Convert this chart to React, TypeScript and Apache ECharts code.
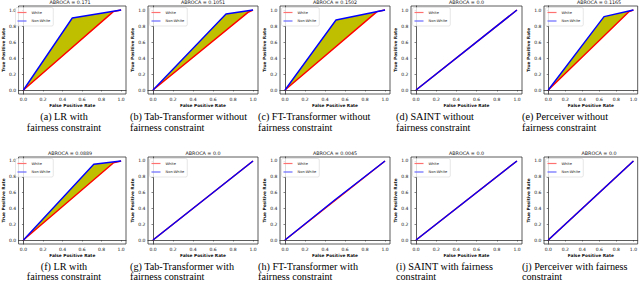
import React, { useEffect, useRef } from 'react';
import * as echarts from 'echarts';

// ---- data ----
const abrocaTitles = [
  'ABROCA = 0.171', 'ABROCA = 0.1051', 'ABROCA = 0.1502', 'ABROCA = 0.0', 'ABROCA = 0.1165',
  'ABROCA = 0.0889', 'ABROCA = 0.0', 'ABROCA = 0.0045', 'ABROCA = 0.0', 'ABROCA = 0.0',
];

// ROC curves (FPR, TPR) for the "White" group, one per panel
const whiteCurves: number[][][] = [
  [[0, 0], [0.92, 0.98], [1, 1]],
  [[0, 0], [0.95, 0.97], [1, 1]],
  [[0, 0], [0.92, 0.98], [1, 1]],
  [[0, 0], [1, 1]],
  [[0, 0], [0.95, 0.98], [1, 1]],
  [[0, 0], [0.92, 0.975], [1, 1]],
  [[0, 0], [1, 1]],
  [[0, 0], [1, 1]],
  [[0, 0], [1, 1]],
  [[0, 0], [1, 1]],
];

// ROC curves (FPR, TPR) for the "Non-White" group, one per panel
const nonWhiteCurves: number[][][] = [
  [[0, 0], [0.5, 0.9], [1, 1]],
  [[0, 0], [0.73, 0.95], [1, 1]],
  [[0, 0], [0.51, 0.875], [1, 1]],
  [[0, 0], [1, 1]],
  [[0, 0], [0.655, 0.917], [1, 1]],
  [[0, 0], [0.72, 0.958], [1, 1]],
  [[0, 0], [1, 1]],
  [[0, 0], [0.5, 0.509], [1, 1]],
  [[0, 0], [1, 1]],
  [[0, 0], [1, 1]],
];

const tickValues = [0, 0.2, 0.4, 0.6, 0.8, 1.0];

const captionLine1 = [
  '(a) LR with', '(b) Tab-Transformer without', '(c) FT-Transformer without', '(d) SAINT without', '(e) Perceiver without',
  '(f) LR with', '(g) Tab-Transformer with', '(h) FT-Transformer with', '(i) SAINT with fairness', '(j) Perceiver with fairness',
];
const captionLine2 = [
  'fairness constraint', 'fairness constraint', 'fairness constraint', 'fairness constraint', 'fairness constraint',
  'fairness constraint', 'fairness constraint', 'fairness constraint', 'constraint', 'constraint',
];

// ---- layout ----
const gridLefts = [14, 148, 280, 411, 544];
const gridWidths = [112, 110, 110, 111, 110];
const rowTops = [6, 157];
const rowHeights = [88, 87];
const captionX = [64, 130, 258, 396, 522];
const captionCentered = [true, false, false, false, false];
const captionY = [[116.8, 127], [266.6, 276.8]];
const CAPTION_SIZE = 10.2;
const FONT = 'DejaVu Sans';

export default function App() {
  const ref = useRef<HTMLDivElement>(null);
  useEffect(() => {
    if (!ref.current) return;
    const chart = echarts.init(ref.current, undefined, { renderer: 'svg' });
    const grids: any[] = [];
    const xAxes: any[] = [];
    const yAxes: any[] = [];
    const series: any[] = [];
    const legends: any[] = [];
    const graphics: any[] = [];

    for (let i = 0; i < 10; i++) {
      const row = Math.floor(i / 5);
      const col = i % 5;
      const left = gridLefts[col];
      const width = gridWidths[col];
      const top = rowTops[row];
      const height = rowHeights[row];
      grids.push({ left, top, width, height, show: true, borderColor: '#333', borderWidth: 0.8, backgroundColor: 'transparent' });
      const axisCommon = {
        gridIndex: i,
        type: 'value',
        min: -0.05,
        max: 1.05,
        splitLine: { show: false },
        axisLine: { show: true, lineStyle: { color: '#333', width: 0.8 } },
        axisTick: { show: true, length: 1.5, customValues: tickValues, lineStyle: { color: '#333', width: 0.6 } },
        axisLabel: {
          customValues: tickValues,
          fontSize: 4.5,
          fontFamily: FONT,
          color: '#111',
          margin: 2.5,
          formatter: (v: number) => v.toFixed(1),
        },
        nameLocation: 'middle',
        nameTextStyle: { fontSize: 4.3, fontWeight: 'bold', fontFamily: FONT, color: '#111' },
      };
      xAxes.push({ ...axisCommon, name: 'False Positive Rate', nameGap: 9.5 });
      yAxes.push({ ...axisCommon, name: 'True Positive Rate', nameGap: 11 });

      const white = whiteCurves[i];
      const nonWhite = nonWhiteCurves[i];
      const poly = [...nonWhite, ...white.slice().reverse()];
      series.push({
        type: 'custom',
        xAxisIndex: i,
        yAxisIndex: i,
        silent: true,
        z: 1,
        data: [[0, 0]],
        renderItem: (_p: any, api: any) => ({
          type: 'polygon',
          shape: { points: poly.map((p) => api.coord(p)) },
          style: { fill: '#bfbf00', stroke: 'none' },
        }),
      });
      series.push({
        type: 'line', name: 'White', xAxisIndex: i, yAxisIndex: i, data: white,
        symbol: 'none', z: 2, lineStyle: { color: '#ff0000', width: 1.4 }, itemStyle: { color: '#ff0000' },
      });
      series.push({
        type: 'line', name: 'Non-White', xAxisIndex: i, yAxisIndex: i, data: nonWhite,
        symbol: 'none', z: 3, lineStyle: { color: '#0000ff', width: 1.4 }, itemStyle: { color: '#0000ff' },
      });
      legends.push({
        left: left + 1.5,
        top: top + 1.5,
        orient: 'vertical',
        data: [
          { name: 'White', icon: 'rect', itemStyle: { color: '#ff7070' } },
          { name: 'Non-White', icon: 'rect', itemStyle: { color: '#6a6aff' } },
        ],
        selectedMode: false,
        itemWidth: 9,
        itemHeight: 1.2,
        itemGap: 4.5,
        textStyle: { fontSize: 3.6, fontFamily: FONT, color: '#222' },
        backgroundColor: 'rgba(255,255,255,0.8)',
        borderColor: '#ccc',
        borderWidth: 0.5,
        borderRadius: 1.5,
        padding: [3, 3, 3, 2],
      });
      graphics.push({
        type: 'text',
        x: left + width / 2,
        y: top - 4,
        style: { text: abrocaTitles[i], fontSize: 4.8, fontFamily: FONT, fill: '#111', align: 'center', verticalAlign: 'middle' },
      });
      const cx = captionX[col];
      const centered = captionCentered[col];
      [captionLine1[i], captionLine2[i]].forEach((t, k) => {
        graphics.push({
          type: 'text',
          x: cx,
          y: captionY[row][k],
          style: {
            text: t, fontSize: CAPTION_SIZE, lineHeight: CAPTION_SIZE, fontFamily: 'Liberation Serif', fill: '#000',
            align: centered ? 'center' : 'left', verticalAlign: 'middle',
          },
        });
      });
    }

    chart.setOption({
      animation: false,
      backgroundColor: '#fff',
      grid: grids,
      xAxis: xAxes,
      yAxis: yAxes,
      legend: legends,
      series,
      graphic: graphics,
    });
    return () => chart.dispose();
  }, []);
  return <div ref={ref} style={{ position: 'absolute', left: 0, top: 0, width: 640, height: 282 }} />;
}
